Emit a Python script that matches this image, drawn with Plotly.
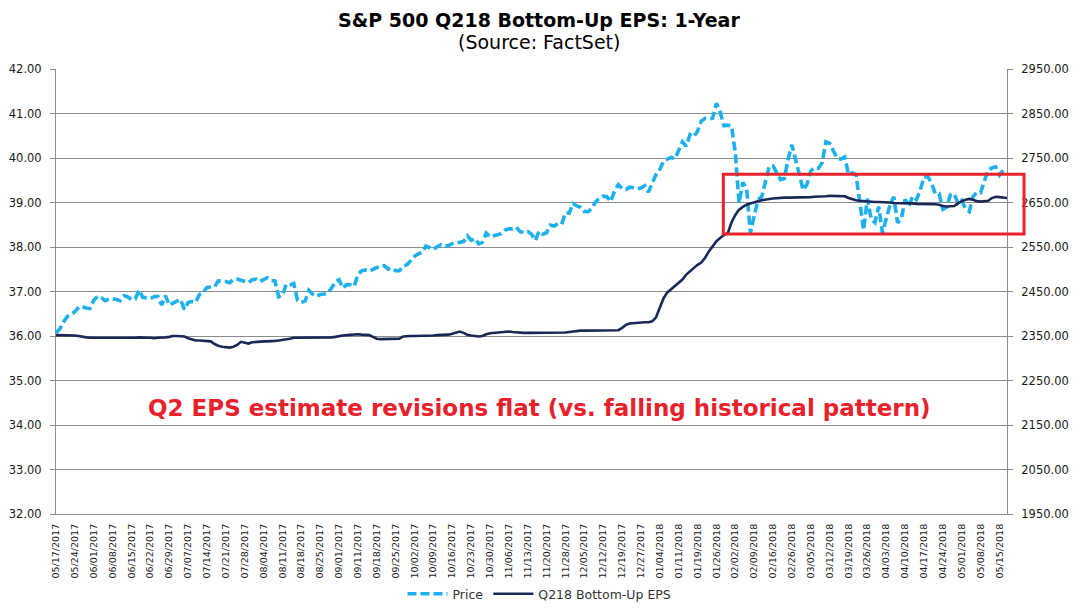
import pandas as pd
import plotly.graph_objects as go

# ---------------- data ----------------
holidays = ["2017-05-29", "2017-07-04", "2017-09-04", "2017-11-23", "2017-12-25",
            "2018-01-01", "2018-01-15", "2018-02-19", "2018-03-30"]

price_may17 = [2357.03, 2365.72, 2381.73, 2394.02, 2398.42, 2404.39, 2415.07, 2415.82, 2412.91, 2411.80]
price_jun17 = [2430.06, 2439.07, 2436.10, 2429.33, 2433.14, 2433.79, 2431.77, 2429.39, 2440.35, 2437.92, 2432.46,
               2433.15, 2453.46, 2437.03, 2435.61, 2434.50, 2438.30, 2439.07, 2419.38, 2440.69, 2419.70, 2423.41]
price_jul17 = [2429.01, 2432.54, 2409.75, 2425.18, 2427.43, 2425.53, 2443.25, 2447.83, 2459.27, 2459.14,
               2460.61, 2473.83, 2473.45, 2472.54, 2469.91, 2477.13, 2477.83, 2475.42, 2472.10, 2470.30]
price_aug17 = [2476.35, 2477.57, 2472.16, 2476.83, 2480.91, 2474.92, 2474.02, 2438.21, 2441.32, 2465.84, 2464.61,
               2468.11, 2430.01, 2425.55, 2428.37, 2452.51, 2444.04, 2438.97, 2443.05, 2444.24, 2446.30, 2457.59, 2471.65]
price_sep17 = [2476.55, 2457.85, 2465.54, 2465.10, 2461.43, 2488.11, 2496.48, 2498.37, 2495.62, 2500.23,
               2503.87, 2506.65, 2508.24, 2500.60, 2502.22, 2496.66, 2496.84, 2507.04, 2510.06, 2519.36]
price_oct17 = [2529.12, 2534.58, 2537.74, 2552.07, 2549.33, 2544.73, 2550.64, 2555.24, 2550.93, 2553.17, 2557.64,
               2559.36, 2561.26, 2562.10, 2575.21, 2564.98, 2569.13, 2557.15, 2560.40, 2581.07, 2572.83, 2575.26]
price_nov17 = [2579.36, 2579.85, 2587.84, 2591.13, 2590.64, 2594.38, 2584.62, 2582.30, 2584.84, 2578.87, 2564.62,
               2585.64, 2578.85, 2582.14, 2599.03, 2597.08, 2602.42, 2601.42, 2627.04, 2626.07, 2647.58]
price_dec17 = [2642.22, 2639.44, 2629.57, 2629.27, 2636.98, 2651.50, 2659.99, 2664.11, 2662.85, 2652.01,
               2675.81, 2690.16, 2681.47, 2679.25, 2684.57, 2683.34, 2680.50, 2682.62, 2687.54, 2673.61]
price_jan18 = [2695.81, 2713.06, 2723.99, 2743.15, 2747.71, 2751.29, 2748.23, 2767.56, 2786.24, 2776.42, 2802.56,
               2798.03, 2810.30, 2832.97, 2839.13, 2837.54, 2839.25, 2872.87, 2853.53, 2822.43, 2823.81]
price_feb18 = [2821.98, 2762.13, 2648.94, 2695.14, 2681.66, 2581.00, 2619.55, 2656.00, 2662.94, 2698.63,
               2731.20, 2732.22, 2716.26, 2701.33, 2703.96, 2747.30, 2779.60, 2744.28, 2713.83]
price_mar18 = [2677.67, 2691.25, 2720.94, 2728.12, 2726.80, 2738.97, 2786.57, 2783.02, 2765.31, 2749.48, 2747.33,
               2752.01, 2712.92, 2716.94, 2711.93, 2643.69, 2588.26, 2658.55, 2612.62, 2605.00, 2640.87]
price_apr18 = [2581.88, 2614.45, 2644.69, 2662.84, 2604.47, 2613.16, 2656.87, 2642.19, 2663.99, 2656.30, 2677.84,
               2706.39, 2708.64, 2693.13, 2670.14, 2670.29, 2634.56, 2639.40, 2666.94, 2669.91, 2648.05]
price_may18 = [2654.80, 2635.67, 2629.73, 2663.42, 2672.63, 2671.92, 2697.79, 2723.07, 2727.72, 2730.13,
               2711.45, 2722.46, 2720.13]

eps_may17 = [36.02, 36.02, 36.02, 36.02, 36.02, 36.01, 36.00, 35.98, 35.97, 35.96]
eps_jun17 = [35.96, 35.96, 35.95, 35.96, 35.96, 35.96, 35.95, 35.96, 35.96, 35.96, 35.96,
             35.96, 35.97, 35.96, 35.96, 35.96, 35.95, 35.96, 35.96, 35.97, 35.98, 36.00]
eps_jul17 = [36.00, 36.00, 35.99, 35.95, 35.92, 35.90, 35.90, 35.89, 35.89, 35.88,
             35.82, 35.78, 35.76, 35.75, 35.74, 35.76, 35.80, 35.87, 35.85, 35.83]
eps_aug17 = [35.86, 35.87, 35.87, 35.88, 35.88, 35.88, 35.89, 35.90, 35.91, 35.93, 35.94, 35.96,
             35.96, 35.97, 35.97, 35.97, 35.96, 35.96, 35.97, 35.97, 35.97, 35.97, 35.98]
eps_sep17 = [36.00, 36.01, 36.02, 36.03, 36.04, 36.04, 36.03, 36.03, 36.02, 35.98,
             35.94, 35.93, 35.93, 35.93, 35.93, 35.93, 35.94, 35.99, 36.00, 36.00]
eps_oct17 = [36.00, 36.00, 36.01, 36.00, 36.01, 36.01, 36.02, 36.02, 36.02, 36.03, 36.05,
             36.08, 36.10, 36.07, 36.03, 36.01, 36.00, 35.99, 36.00, 36.04, 36.06, 36.07]
eps_nov17 = [36.08, 36.09, 36.10, 36.10, 36.09, 36.08, 36.07, 36.07, 36.07, 36.07, 36.07,
             36.07, 36.07, 36.07, 36.07, 36.08, 36.08, 36.08, 36.08, 36.09, 36.10]
eps_dec17 = [36.12, 36.12, 36.12, 36.12, 36.12, 36.12, 36.12, 36.12, 36.12, 36.12,
             36.12, 36.13, 36.18, 36.25, 36.28, 36.29, 36.30, 36.31, 36.31, 36.31]
eps_jan18 = [36.33, 36.42, 36.62, 36.85, 36.98, 37.05, 37.12, 37.18, 37.27, 37.38, 37.46,
             37.54, 37.60, 37.65, 37.76, 37.90, 38.03, 38.13, 38.20, 38.27, 38.31]
eps_feb18 = [38.55, 38.72, 38.84, 38.90, 38.95, 38.98, 39.01, 39.03, 39.05, 39.07,
             39.08, 39.09, 39.10, 39.10, 39.11, 39.11, 39.11, 39.11, 39.12]
eps_mar18 = [39.12, 39.12, 39.12, 39.13, 39.13, 39.13, 39.14, 39.15, 39.15, 39.15, 39.15,
             39.14, 39.10, 39.07, 39.05, 39.04, 39.03, 39.02, 39.02, 39.01, 39.01]
eps_apr18 = [39.01, 39.00, 39.00, 38.99, 38.99, 38.99, 38.98, 38.98, 38.98, 38.97, 38.97,
             38.97, 38.96, 38.97, 38.96, 38.95, 38.92, 38.91, 38.91, 38.92, 38.98]
eps_may18 = [39.03, 39.06, 39.08, 39.06, 39.03, 39.02, 39.03, 39.04, 39.10, 39.13,
             39.12, 39.11, 39.10]

tick_labels = ["05/17/2017", "05/24/2017", "06/01/2017", "06/08/2017", "06/15/2017", "06/22/2017",
               "06/29/2017", "07/07/2017", "07/14/2017", "07/21/2017", "07/28/2017", "08/04/2017",
               "08/11/2017", "08/18/2017", "08/25/2017", "09/01/2017", "09/11/2017", "09/18/2017",
               "09/25/2017", "10/02/2017", "10/09/2017", "10/16/2017", "10/23/2017", "10/30/2017",
               "11/06/2017", "11/13/2017", "11/20/2017", "11/28/2017", "12/05/2017", "12/12/2017",
               "12/19/2017", "12/27/2017", "01/04/2018", "01/11/2018", "01/19/2018", "01/26/2018",
               "02/02/2018", "02/09/2018", "02/16/2018", "02/26/2018", "03/05/2018", "03/12/2018",
               "03/19/2018", "03/26/2018", "04/03/2018", "04/10/2018", "04/17/2018", "04/24/2018",
               "05/01/2018", "05/08/2018", "05/15/2018"]

price = (price_may17 + price_jun17 + price_jul17 + price_aug17 + price_sep17 + price_oct17 + price_nov17
         + price_dec17 + price_jan18 + price_feb18 + price_mar18 + price_apr18 + price_may18)
eps = (eps_may17 + eps_jun17 + eps_jul17 + eps_aug17 + eps_sep17 + eps_oct17 + eps_nov17
       + eps_dec17 + eps_jan18 + eps_feb18 + eps_mar18 + eps_apr18 + eps_may18)

trading_days = pd.bdate_range("2017-05-17", "2018-05-31", freq="C", holidays=holidays)
dates = [d.strftime("%m/%d/%Y") for d in trading_days][:len(price)]

# ---------------- figure ----------------
FONT = "DejaVu Sans"
GRID = "#8c8c8c"
BLUE = "#1cb0ec"
NAVY = "#1a2858"
RED = "#e8212b"

fig = go.Figure()
fig.add_trace(go.Scatter(x=dates, y=price, name="Price", yaxis="y", mode="lines",
                         line=dict(color=BLUE, width=3.6, dash="9px,4px")))
fig.add_trace(go.Scatter(x=dates, y=eps, name="Q218 Bottom-Up EPS", yaxis="y2", mode="lines",
                         line=dict(color=NAVY, width=2.6)))

# page body has an 8px default margin, so the figure is 8px smaller than the window
fig.update_layout(
    width=1072, height=604,
    margin=dict(l=48, r=73, t=61, b=98, autoexpand=False),
    paper_bgcolor="white", plot_bgcolor="white",
    font=dict(family=FONT, size=12, color="#1a1a1a"),
    showlegend=True,
    legend=dict(orientation="h", xref="paper", yref="paper", x=0.5084, y=-0.18,
                xanchor="center", yanchor="middle", font=dict(size=12.5, color="#333333"),
                bgcolor="rgba(0,0,0,0)", itemwidth=40, tracegroupgap=0),
    xaxis=dict(type="category", range=[0, len(dates) - 1], tickmode="array",
               tickvals=tick_labels, ticktext=tick_labels, tickangle=-90,
               tickfont=dict(size=9.5, color="#1a1a1a"), showgrid=False, automargin=False,
               showline=True, linecolor=GRID, linewidth=1, ticks="", ticklabelstandoff=5,
               zeroline=False),
    yaxis=dict(side="right", range=[1950, 2950], dtick=100, tick0=1950, tickformat=".2f",
               showgrid=True, gridcolor=GRID, gridwidth=1, showline=True, linecolor=GRID,
               ticks="outside", ticklen=5, tickcolor=GRID, ticklabelstandoff=6, automargin=False,
               tickfont=dict(size=11.5), zeroline=False),
    yaxis2=dict(overlaying="y", side="left", range=[32, 42], dtick=1, tick0=32, tickformat=".2f",
                showgrid=False, showline=True, linecolor=GRID, ticks="outside", ticklen=5,
                tickcolor=GRID, ticklabelstandoff=6, tickfont=dict(size=11.5), zeroline=False,
                automargin=False),
)

fig.add_shape(type="rect", xref="paper", yref="paper", x0=0.7017, x1=1.0179, y0=0.6292, y1=0.7634,
              line=dict(color=RED, width=3), fillcolor="rgba(0,0,0,0)")

fig.add_annotation(xref="paper", yref="paper", x=0.5084, y=1.1101, showarrow=False,
                   text="<b>S&P 500 Q218 Bottom-Up EPS: 1-Year</b>",
                   font=dict(family=FONT, size=19, color="#000000"), xanchor="center", yanchor="middle")
fig.add_annotation(xref="paper", yref="paper", x=0.5084, y=1.0607, showarrow=False,
                   text="(Source: FactSet)",
                   font=dict(family=FONT, size=19, color="#000000"), xanchor="center", yanchor="middle")
fig.add_annotation(xref="paper", yref="paper", x=0.5084, y=0.2382, showarrow=False,
                   text="<b>Q2 EPS estimate revisions flat (vs. falling historical pattern)</b>",
                   font=dict(family=FONT, size=23, color=RED), xanchor="center", yanchor="middle")

fig.write_html("out.html")
